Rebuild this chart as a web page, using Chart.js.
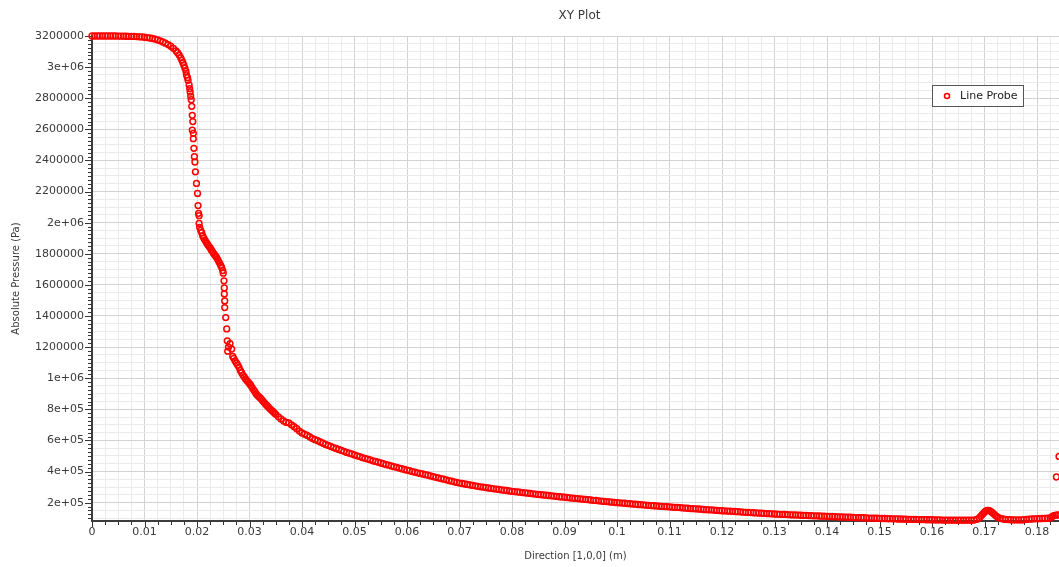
<!DOCTYPE html>
<html><head><meta charset="utf-8">
<script src="https://cdn.jsdelivr.net/npm/chart.js@4.4.0/dist/chart.umd.min.js"></script>
<style>html,body{margin:0;padding:0;background:#fff;overflow:hidden;}#wrap{width:1059px;height:567px;}canvas{display:block;}</style>
</head><body><div id="wrap"><canvas id="c" width="1059" height="567"></canvas></div>
<script>
const chartTitle = 'XY Plot';
const seriesName = 'Line Probe';
const xAxisTitle = 'Direction [1,0,0] (m)';
const yAxisTitle = 'Absolute Pressure (Pa)';
const xTickValues = [0,0.01,0.02,0.03,0.04,0.05,0.06,0.07,0.08,0.09,0.1,0.11,0.12,0.13,0.14,0.15,0.16,0.17,0.18];
const xTickLabels = ['0','0.01','0.02','0.03','0.04','0.05','0.06','0.07','0.08','0.09','0.1','0.11','0.12','0.13','0.14','0.15','0.16','0.17','0.18'];
const yTickValues = [200000,400000,600000,800000,1000000,1200000,1400000,1600000,1800000,2000000,2200000,2400000,2600000,2800000,3000000,3200000];
const yTickLabels = ['2e+05','4e+05','6e+05','8e+05','1e+06','1200000','1400000','1600000','1800000','2e+06','2200000','2400000','2600000','2800000','3e+06','3200000'];

// Inlet plateau and rounding
const inletX = [0,0.0005,0.001,0.0015,0.002,0.0025,0.003,0.0035,0.004,0.0045,
  0.005,0.0055,0.006,0.0065,0.007,0.0075,0.008,0.0085,0.009,0.0095,
  0.01,0.0105,0.011,0.0115,0.012,0.0125,0.013,0.0135,0.014,0.0145,
  0.015,0.0155,0.016,0.0163,0.0166,0.0169,0.0171,0.0173,0.0175,0.0177,0.0179];
const inletP = [3200000,3200000,3200000,3200000,3200000,3200000,3200000,3200000,3200000,3200000,
  3199500,3199000,3199000,3198500,3198000,3197500,3197000,3196000,3195000,3194000,
  3192000,3190000,3187000,3184000,3180000,3175000,3169000,3162000,3154000,3145000,
  3134000,3121000,3105000,3093000,3078000,3060000,3045000,3030000,3012000,2993000,2972000];
// First steep drop (sparse probe points)
const firstDropX = [0.018,0.0182,0.0183,0.0185,0.0186,0.0187,0.0188,0.0189,0.019,0.0191,0.0192,0.0191,
  0.0193,0.0193,0.0194,0.0195,0.0196,0.0197,0.0199,0.0201,0.0202,0.0203,0.0204,0.0204];
const firstDropP = [2950000,2932000,2915000,2885000,2862000,2840000,2813000,2790000,2748000,2690000,2650000,2595000,
  2574000,2540000,2478000,2424000,2390000,2327000,2252000,2188000,2110000,2060000,2045000,1995000];
// Shoulder
const shoulderX = [0.0205,0.0207,0.0209,0.0211,0.0213,0.0215,0.0217,0.0219,0.0221,0.0223,0.0225,0.0227,
  0.0229,0.0231,0.0233,0.0235,0.0237,0.0239,0.0241,0.0243,0.0245,0.0247,0.0249,0.025];
const shoulderP = [1970000,1950000,1935000,1915000,1900000,1888000,1877000,1866000,1856000,1846000,1838000,1826000,
  1816000,1806000,1796000,1787000,1778000,1766000,1753000,1740000,1726000,1712000,1692000,1675000];
// Second steep drop
const secondDropX = [0.02514,0.0252,0.0252,0.02528,0.02528,0.02547,0.02566,0.02577,0.02629,0.026,0.02585,0.02661];
const secondDropP = [1626000,1580000,1542000,1497000,1454000,1390000,1317000,1240000,1222000,1200000,1174000,1187000];
// Expansion
const expansionX = [0.0268,0.027,0.02725,0.0275,0.02775,0.028,0.02825,0.0285,0.02875,0.029,
  0.02925,0.0295,0.02975,0.03,0.03025,0.0305,0.03075,0.031,0.03125,0.0315,
  0.03175,0.032,0.03225,0.0325,0.03275,0.033,0.03325,0.0335,0.03375,0.034,
  0.03425,0.0345,0.03475,0.035,0.0355,0.036,0.0365,0.037,0.0375,0.038,
  0.0385,0.039,0.0395,0.04,0.0405,0.041,0.0415,0.042,0.0425,0.043,
  0.0435,0.044,0.0445,0.045,0.0455,0.046,0.0465,0.047,0.0475,0.048,
  0.0485,0.049,0.0495,0.05];
const expansionP = [1140000,1128000,1112000,1098000,1085000,1070000,1050000,1035000,1020000,1008000,
  995000,985000,975000,965000,953000,940000,927000,915000,900000,890000,
  882000,875000,866000,855000,845000,835000,826000,818000,808000,800000,
  792000,785000,776000,768000,752000,738000,725000,716000,713000,700000,
  688000,675000,660000,648000,640000,632000,622000,612000,605000,598000,
  590000,582000,574000,568000,561000,554000,548000,542000,536000,530000,
  523000,518000,513000,507000];
// Tail
const tailX = [0.0505,0.051,0.0515,0.052,0.0525,0.053,0.0535,0.054,0.0545,0.055,
  0.0555,0.056,0.0565,0.057,0.0575,0.058,0.0585,0.059,0.0595,0.06,
  0.0605,0.061,0.0615,0.062,0.0625,0.063,0.0635,0.064,0.0645,0.065,
  0.0655,0.066,0.0665,0.067,0.0675,0.068,0.0685,0.069,0.0695,0.07,
  0.0705,0.071,0.0715,0.072,0.0725,0.073,0.0735,0.074,0.0745,0.075,
  0.0755,0.076,0.0765,0.077,0.0775,0.078,0.0785,0.079,0.0795,0.08,
  0.0805,0.081,0.0815,0.082,0.0825,0.083,0.0835,0.084,0.0845,0.085,
  0.0855,0.086,0.0865,0.087,0.0875,0.088,0.0885,0.089,0.0895,0.09,
  0.0905,0.091,0.0915,0.092,0.0925,0.093,0.0935,0.094,0.0945,0.095,
  0.0955,0.096,0.0965,0.097,0.0975,0.098,0.0985,0.099,0.0995,0.1,
  0.1005,0.101,0.1015,0.102,0.1025,0.103,0.1035,0.104,0.1045,0.105,
  0.1055,0.106,0.1065,0.107,0.1075,0.108,0.1085,0.109,0.1095,0.11,
  0.1105,0.111,0.1115,0.112,0.1125,0.113,0.1135,0.114,0.1145,0.115,
  0.1155,0.116,0.1165,0.117,0.1175,0.118,0.1185,0.119,0.1195,0.12,
  0.1205,0.121,0.1215,0.122,0.1225,0.123,0.1235,0.124,0.1245,0.125,
  0.1255,0.126,0.1265,0.127,0.1275,0.128,0.1285,0.129,0.1295,0.13,
  0.1305,0.131,0.1315,0.132,0.1325,0.133,0.1335,0.134,0.1345,0.135,
  0.1355,0.136,0.1365,0.137,0.1375,0.138,0.1385,0.139,0.1395,0.14,
  0.1405,0.141,0.1415,0.142,0.1425,0.143,0.1435,0.144,0.1445,0.145,
  0.1455,0.146,0.1465,0.147,0.1475,0.148,0.1485,0.149,0.1495,0.15,
  0.1505,0.151,0.1515,0.152,0.1525,0.153,0.1535,0.154,0.1545,0.155,
  0.1555,0.156,0.1565,0.157,0.1575,0.158,0.1585,0.159,0.1595,0.16,
  0.1605,0.161,0.1615,0.162,0.1625,0.163,0.1635,0.164,0.1645,0.165,
  0.1655,0.166,0.1665,0.167,0.1675,0.168];
const tailP = [501000,496000,490000,485000,480000,475000,469000,465000,460000,455000,
  450000,445000,441000,436000,431000,427000,422000,418000,413000,409000,
  405000,400000,396000,392000,388000,384000,380000,376000,372000,367000,
  363000,359000,355000,351000,347000,342000,338000,334000,330000,326000,
  323000,320000,317000,314000,311000,308000,305000,302000,300000,297000,
  294000,292000,289000,287000,285000,282000,280000,278000,275000,273000,
  271000,269000,267000,265000,263000,261000,259000,257000,255000,253000,
  251000,249000,248000,246000,244000,242000,240000,238000,237000,235000,
  233000,231000,229000,228000,226000,224000,222000,221000,219000,217000,
  215000,214000,212000,210000,208000,207000,205000,203000,202000,200000,
  199000,197000,196000,194000,193000,191000,190000,188000,187000,186000,
  184000,183000,181000,180000,179000,177000,176000,175000,174000,173000,
  171000,170000,169000,168000,166000,165000,164000,162000,161000,160000,
  159000,158000,156000,155000,154000,153000,152000,150000,149000,148000,
  147000,146000,145000,144000,143000,142000,141000,139000,138000,137000,
  136000,135000,134000,133000,132000,131000,130000,129000,128000,127000,
  126000,125000,125000,124000,123000,122000,121000,121000,120000,119000,
  118000,118000,117000,116000,115000,115000,114000,113000,113000,112000,
  111000,111000,110000,109000,108000,108000,107000,106000,106000,105000,
  104000,104000,103000,103000,102000,101000,101000,100000,100000,99000,
  98000,98000,97000,97000,96000,96000,95000,95000,94000,94000,
  93000,93000,92000,92000,91000,91000,91000,90000,90000,90000,
  89000,89000,89000,88000,88000,88000,87000,87000,87000,87000,
  87000,87000,87000,87000,87000,88000];
// Local bump near 0.17 and outlet
const outletX = [0.1685,0.169,0.1693,0.1696,0.1699,0.1702,0.1705,0.1708,0.1711,0.1714,
  0.1717,0.172,0.1723,0.1726,0.173,0.1735,0.174,0.1745,0.175,0.1755,
  0.176,0.1765,0.177,0.1775,0.178,0.1785,0.179,0.1795,0.18,0.1805,
  0.181,0.1815,0.182,0.1825,0.1828,0.1831,0.1834,0.1837,0.184,0.1837,0.1842];
const outletP = [92000,102000,113000,124000,135000,145000,150000,150000,146000,139000,
  130000,120000,112000,105000,99000,95000,92000,91000,90000,89000,
  89000,89000,89000,90000,92000,94000,95000,96000,97000,97000,
  98000,98000,100000,101000,108000,115000,118000,120000,121000,365000,497000];

const X_MIN = 0, X_MAX = 0.18419, Y_MIN = 82000, Y_MAX = 3200000;

const segX = [inletX, firstDropX, shoulderX, secondDropX, expansionX, tailX, outletX];
const segP = [inletP, firstDropP, shoulderP, secondDropP, expansionP, tailP, outletP];
const points = [];
segX.forEach((xs, s) => xs.forEach((x, i) => points.push({x: x, y: segP[s][i]})));

const FONT = 'DejaVu Sans';
const TXT = '#3a3a3a';

function labelFrom(values, labels, v, tol) {
  for (let i = 0; i < values.length; i++) if (Math.abs(values[i] - v) < tol) return labels[i];
  return '';
}

const tickMarks = {
  id: 'tickMarks',
  beforeDatasetsDraw(chart) {
    const {ctx, chartArea: a, scales: {x, y}} = chart;
    ctx.save();
    ctx.strokeStyle = '#333';
    ctx.lineWidth = 1;
    ctx.beginPath();
    x.ticks.forEach(t => {
      const px = Math.round(x.getPixelForValue(t.value)) + 0.5;
      const len = t.major ? 5 : 3;
      ctx.moveTo(px, a.bottom + 1); ctx.lineTo(px, a.bottom + 1 + len);
    });
    for (let k = Math.ceil(Y_MIN / 25000); k * 25000 <= Y_MAX; k++) {
      const v = k * 25000;
      const py = Math.round(y.getPixelForValue(v)) + 0.5;
      const major = (v % 200000) === 0;
      const len = major ? 6 : 3;
      ctx.moveTo(a.left - 1, py); ctx.lineTo(a.left - 1 - len, py);
    }
    ctx.stroke();
    ctx.restore();
  },
  afterDraw(chart) {
    const {ctx, chartArea: a} = chart;
    ctx.save();
    ctx.fillStyle = TXT;
    ctx.font = '12px "' + FONT + '"';
    ctx.textAlign = 'center';
    ctx.textBaseline = 'middle';
    ctx.fillText(chartTitle, (a.left + a.right) / 2 + 4, 16);
    const bx = a.right - 127, by = a.top + 49, bw = 91, bh = 21;
    ctx.fillStyle = '#fff';
    ctx.fillRect(bx, by, bw, bh);
    ctx.strokeStyle = '#555';
    ctx.lineWidth = 1;
    ctx.strokeRect(bx + 0.5, by + 0.5, bw, bh);
    ctx.strokeStyle = '#ff0000';
    ctx.lineWidth = 1.5;
    ctx.beginPath();
    ctx.arc(bx + 15, by + 11, 2.5, 0, Math.PI * 2);
    ctx.stroke();
    ctx.fillStyle = '#222';
    ctx.font = '11px "' + FONT + '"';
    ctx.textAlign = 'left';
    ctx.fillText(seriesName, bx + 28, by + 11.5);
    ctx.restore();
  }
};

new Chart(document.getElementById('c'), {
  type: 'scatter',
  data: {
    datasets: [{
      label: seriesName,
      data: points,
      showLine: false,
      pointStyle: 'circle',
      pointRadius: 2.9,
      pointBorderWidth: 1.5,
      borderColor: '#ff0000',
      pointBorderColor: '#ff0000',
      pointBackgroundColor: 'rgba(255,255,255,0)',
      backgroundColor: 'rgba(255,255,255,0)',
      clip: false
    }]
  },
  options: {
    responsive: false,
    devicePixelRatio: 1,
    animation: false,
    events: [],
    layout: {autoPadding: false, padding: {top: 36, left: 0, right: 0, bottom: 0}},
    plugins: {legend: {display: false}, title: {display: false}, tooltip: {enabled: false}},
    scales: {
      x: {
        type: 'linear', min: X_MIN, max: X_MAX,
        afterBuildTicks: s => {
          const t = [];
          for (let k = 0; k * 0.0025 <= X_MAX; k++) t.push({value: k * 0.0025, major: k % 4 === 0});
          s.ticks = t;
        },
        afterFit: s => { s.height = 46; },
        ticks: {autoSkip: false, maxRotation: 0, minRotation: 0, padding: 0, color: TXT,
          font: {family: FONT, size: 11},
          callback: v => labelFrom(xTickValues, xTickLabels, v, 1e-6)},
        grid: {drawTicks: true, tickLength: 5, tickColor: 'rgba(0,0,0,0)', lineWidth: 1,
          color: c => (c.tick && c.tick.major) ? '#d3d3d3' : '#ebebeb'},
        border: {display: true, color: '#3c3c3c', width: 2},
        title: {display: true, text: xAxisTitle, color: TXT, font: {family: FONT, size: 10}, padding: {top: 0, bottom: 5}}
      },
      y: {
        type: 'linear', min: Y_MIN, max: Y_MAX,
        afterBuildTicks: s => {
          const t = [];
          for (let k = 2; k * 50000 <= Y_MAX; k++) t.push({value: k * 50000, major: k % 4 === 0});
          s.ticks = t;
        },
        afterFit: s => { s.width = 92; },
        ticks: {autoSkip: false, padding: 8, color: TXT, font: {family: FONT, size: 11},
          callback: v => labelFrom(yTickValues, yTickLabels, v, 1)},
        grid: {drawTicks: false, lineWidth: 1,
          color: c => (c.tick && c.tick.major) ? '#d3d3d3' : '#ebebeb'},
        border: {display: true, color: '#3c3c3c', width: 2},
        title: {display: true, text: yAxisTitle, color: TXT, font: {family: FONT, size: 10}, padding: {top: 10, bottom: 0}}
      }
    }
  },
  plugins: [tickMarks]
});
</script>
</body></html>
